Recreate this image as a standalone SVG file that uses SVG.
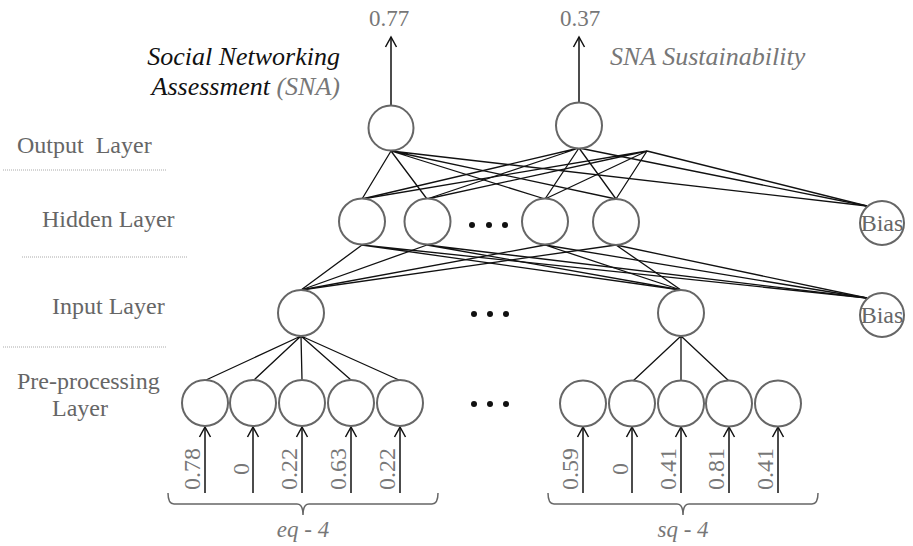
<svg xmlns="http://www.w3.org/2000/svg" width="913" height="546" viewBox="0 0 913 546">
<defs>
<style>
text{font-family:"Liberation Serif","Times New Roman",serif}
.node{fill:#fff;stroke:#666;stroke-width:2}
.edge{stroke:#111;stroke-width:1.3;fill:none}
.arrow{stroke:#111;stroke-width:1.5;fill:none;marker-end:url(#ah)}
.sep{stroke:#aaa;stroke-width:1;stroke-dasharray:1 1}
.lbl{font-size:24px;fill:#666}
.ital{font-style:italic;font-size:26px}
.val{font-size:24px;fill:#777;text-anchor:middle}
.top{font-size:23px}
.brl{font-style:italic;font-size:23px}
.brace{stroke:#666;stroke-width:1.5;fill:none}
.dot{fill:#111}
</style>
<marker id="ah" markerUnits="userSpaceOnUse" markerWidth="14" markerHeight="14" viewBox="-12 -7 14 14" refX="0" refY="0" orient="auto">
<path d="M-10,-5.5 L0,0 L-10,5.5" fill="none" stroke="#111" stroke-width="1.5"/>
</marker>
</defs>
<rect width="913" height="546" fill="#fff"/>

<g id="layer-labels">
<text class="lbl" x="17" y="153" xml:space="preserve">Output  Layer</text>
<line class="sep" x1="3" y1="170" x2="167" y2="170"/>
<text class="lbl" x="42" y="227">Hidden Layer</text>
<line class="sep" x1="22" y1="257" x2="187" y2="257"/>
<text class="lbl" x="52" y="314">Input Layer</text>
<line class="sep" x1="3" y1="347" x2="167" y2="347"/>
<text class="lbl" x="17" y="389">Pre-processing</text>
<text class="lbl" x="52" y="416">Layer</text>
</g>

<g id="titles">
<text class="ital" x="340" y="65" text-anchor="end" fill="#111">Social Networking</text>
<text class="ital" x="340" y="95" text-anchor="end" fill="#111">Assessment <tspan fill="#777">(SNA)</tspan></text>
<text class="ital" x="610" y="65" fill="#777">SNA Sustainability</text>
<text class="val top" x="389" y="26">0.77</text>
<text class="val top" x="580" y="26">0.37</text>
</g>

<g id="connectors">
<line class="arrow" x1="391" y1="105" x2="391" y2="37"/>
<line class="arrow" x1="579" y1="102" x2="579" y2="37"/>
<path class="edge" d="M391,151 L362,199 M391,151 L427,199 M391,151 L545,199 M391,151 L616,199 M391,151 L867,206"/>
<path class="edge" d="M579,148 L362,199 M579,148 L427,199 M579,148 L545,199 M579,148 L616,199 M579,148 L867,206"/>
<path class="edge" d="M647,151 L362,199 M647,151 L427,199 M647,151 L545,199 M647,151 L616,199 M647,151 L867,206"/>
<path class="edge" d="M362,245 L301,290 M362,245 L681,290 M362,245 L867,298"/>
<path class="edge" d="M427,245 L301,290 M427,245 L681,290 M427,245 L867,298"/>
<path class="edge" d="M545,245 L301,290 M545,245 L681,290 M545,245 L867,298"/>
<path class="edge" d="M616,245 L301,290 M616,245 L681,290 M616,245 L867,298"/>
<path class="edge" d="M301,336 L206,380 M301,336 L254,380 M301,336 L302,380 M301,336 L351,380 M301,336 L399,380"/>
<path class="edge" d="M681,336 L633,381 M681,336 L681,381 M681,336 L729,381"/>
<line class="arrow" x1="205" y1="493" x2="205" y2="427"/>
<line class="arrow" x1="253" y1="493" x2="253" y2="427"/>
<line class="arrow" x1="302" y1="493" x2="302" y2="427"/>
<line class="arrow" x1="351" y1="493" x2="351" y2="427"/>
<line class="arrow" x1="400" y1="493" x2="400" y2="427"/>
<line class="arrow" x1="583" y1="493" x2="583" y2="427"/>
<line class="arrow" x1="632" y1="493" x2="632" y2="427"/>
<line class="arrow" x1="681" y1="493" x2="681" y2="427"/>
<line class="arrow" x1="729" y1="493" x2="729" y2="427"/>
<line class="arrow" x1="778" y1="493" x2="778" y2="427"/>
</g>

<g id="output-layer">
<circle id="out1" class="node" cx="391" cy="128" r="22.5"/>
<circle id="out2" class="node" cx="579" cy="125.5" r="23"/>
</g>

<g id="hidden-layer">
<circle id="h1" class="node" cx="362" cy="221.5" r="23"/>
<circle id="h2" class="node" cx="427.5" cy="221.5" r="23"/>
<circle id="h3" class="node" cx="545" cy="221.5" r="23"/>
<circle id="h4" class="node" cx="616" cy="222" r="23"/>
<circle class="dot" cx="472" cy="225" r="3"/>
<circle class="dot" cx="489" cy="225" r="3"/>
<circle class="dot" cx="505" cy="225" r="3"/>
</g>

<g id="bias-hidden">
<circle class="node" cx="882" cy="223" r="22"/>
<text class="lbl" x="882" y="231" text-anchor="middle">Bias</text>
</g>

<g id="input-layer">
<circle id="in1" class="node" cx="301" cy="313" r="23"/>
<circle id="in2" class="node" cx="681" cy="313" r="23"/>
<circle class="dot" cx="474" cy="314" r="3"/>
<circle class="dot" cx="490" cy="314" r="3"/>
<circle class="dot" cx="506" cy="314" r="3"/>
</g>

<g id="bias-input">
<circle class="node" cx="882" cy="315" r="22"/>
<text class="lbl" x="882" y="323" text-anchor="middle">Bias</text>
</g>

<g id="preprocessing-eq">
<circle class="node" cx="205" cy="403" r="23"/>
<circle class="node" cx="253" cy="403" r="23"/>
<circle class="node" cx="302" cy="403" r="23"/>
<circle class="node" cx="351" cy="403" r="23"/>
<circle class="node" cx="400" cy="403" r="23"/>
</g>
<g id="preprocessing-dots">
<circle class="dot" cx="474" cy="404" r="3"/>
<circle class="dot" cx="490" cy="404" r="3"/>
<circle class="dot" cx="506" cy="404" r="3"/>
</g>
<g id="preprocessing-sq">
<circle class="node" cx="583" cy="403.5" r="23"/>
<circle class="node" cx="632" cy="403.5" r="23"/>
<circle class="node" cx="681" cy="403.5" r="23"/>
<circle class="node" cx="729" cy="403.5" r="23"/>
<circle class="node" cx="778" cy="403.5" r="23"/>
</g>

<g id="input-values">
<text class="val" transform="translate(200,469) rotate(-90)">0.78</text>
<text class="val" transform="translate(249,469) rotate(-90)">0</text>
<text class="val" transform="translate(297,469) rotate(-90)">0.22</text>
<text class="val" transform="translate(346,469) rotate(-90)">0.63</text>
<text class="val" transform="translate(395,469) rotate(-90)">0.22</text>
<text class="val" transform="translate(578,469) rotate(-90)">0.59</text>
<text class="val" transform="translate(628,469) rotate(-90)">0</text>
<text class="val" transform="translate(676,469) rotate(-90)">0.41</text>
<text class="val" transform="translate(724,469) rotate(-90)">0.81</text>
<text class="val" transform="translate(773,469) rotate(-90)">0.41</text>
</g>

<g id="braces">
<path class="brace" d="M168,493 Q168,504 174,504 L297,504 Q303,504 303,515 Q303,504 309,504 L432,504 Q438,504 438,493"/>
<path class="brace" d="M548,493 Q548,504 554,504 L677,504 Q683,504 683,515 Q683,504 689,504 L812,504 Q818,504 818,493"/>
<text class="val brl" x="303" y="537">eq - 4</text>
<text class="val brl" x="683" y="537">sq - 4</text>
</g>
</svg>
